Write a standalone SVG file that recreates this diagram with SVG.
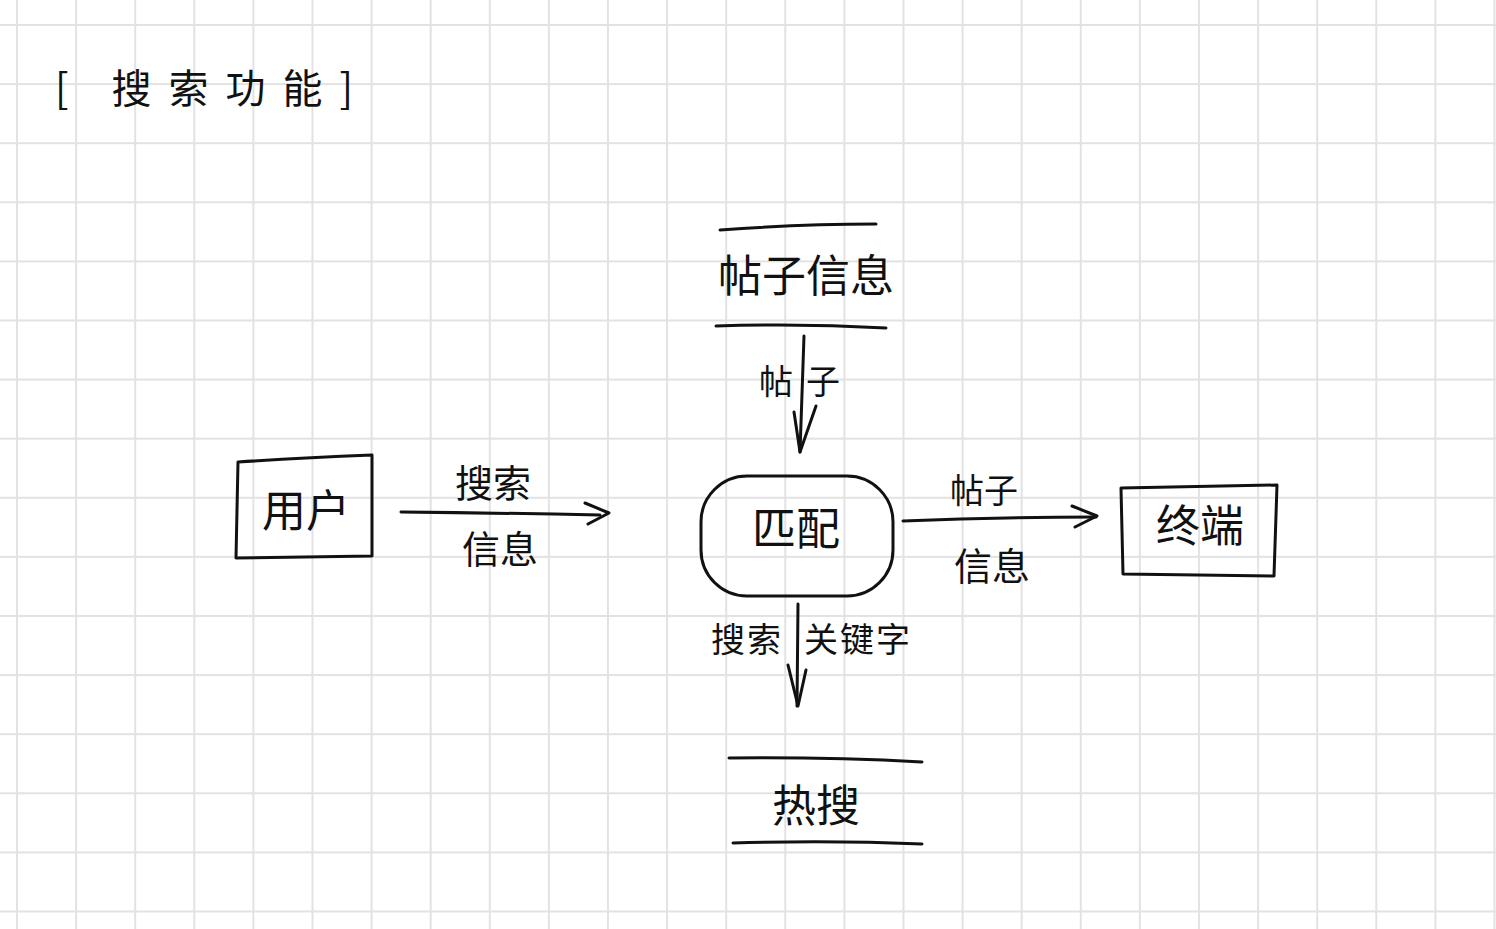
<svg xmlns="http://www.w3.org/2000/svg" width="1496" height="929" viewBox="0 0 1496 929">
<defs>
<style>
.grid{stroke:#e2e2e2;stroke-width:2;fill:none}
.ink{stroke:#111;stroke-width:3;fill:none;stroke-linecap:round;stroke-linejoin:round}
.t{font-family:"Noto Sans CJK SC","Noto Sans",sans-serif;fill:#111;text-anchor:middle}
.s{text-anchor:start}
.big{font-size:44px}
.mid{font-size:38px}
.lbl{font-size:34px}
</style>
<pattern id="g" x="16" y="24" width="59.1" height="59.1" patternUnits="userSpaceOnUse">
<path class="grid" d="M1 0V59.1M0 1H59.1"/>
</pattern>
</defs>
<rect width="1496" height="929" fill="#fff"/>
<rect x="0" y="0" width="1496" height="929" fill="url(#g)"/>

<g id="title">
<text class="t s" x="55" y="103" style="font-size:40px;letter-spacing:17px">[ 搜索功能]</text>
</g>

<g id="user">
<path class="ink" d="M238 462 Q300 458 372 455 L372 556 Q300 557 236 558 L238 462"/>
<text class="t big" x="306" y="527">用户</text>
</g>

<g id="match">
<rect class="ink" x="701" y="476" width="192" height="120" rx="46" ry="46"/>
<text class="t big" x="796" y="545">匹配</text>
</g>

<g id="terminal">
<path class="ink" d="M1121 488 L1277 485 L1274 576 L1123 574 L1121 488"/>
<text class="t big" x="1200" y="542">终端</text>
</g>

<g id="poststore">
<path class="ink" d="M720 230 Q800 224 876 224"/>
<path class="ink" d="M716 326 Q800 323 886 328"/>
<text class="t big" x="806" y="292">帖子信息</text>
</g>

<g id="hotstore">
<path class="ink" d="M729 758 Q830 757 922 762"/>
<path class="ink" d="M733 843 Q830 840 922 844"/>
<text class="t big" x="816" y="822">热搜</text>
</g>

<g id="connectors">
<path class="ink" d="M401 512 Q500 513 600 515"/>
<path class="ink" d="M585 503 L609 513 L588 524"/>
<text class="t mid" x="493" y="497">搜索</text>
<text class="t mid" x="500" y="563">信息</text>

<path class="ink" d="M804 336 L800 452"/>
<path class="ink" d="M794 412 L800 452 L816 406"/>
<text class="t lbl s" x="759" y="394" style="letter-spacing:13px">帖子</text>

<path class="ink" d="M903 521 Q1000 517 1096 517"/>
<path class="ink" d="M1072 506 L1097 516 L1075 527"/>
<text class="t lbl" x="984" y="503">帖子</text>
<text class="t mid" x="992" y="580">信息</text>

<path class="ink" d="M798 604 L797 706"/>
<path class="ink" d="M788 665 L798 706 L806 670"/>
<text class="t lbl s" x="711" y="652" style="letter-spacing:2px">搜索<tspan x="804">关键字</tspan></text>
</g>
</svg>
